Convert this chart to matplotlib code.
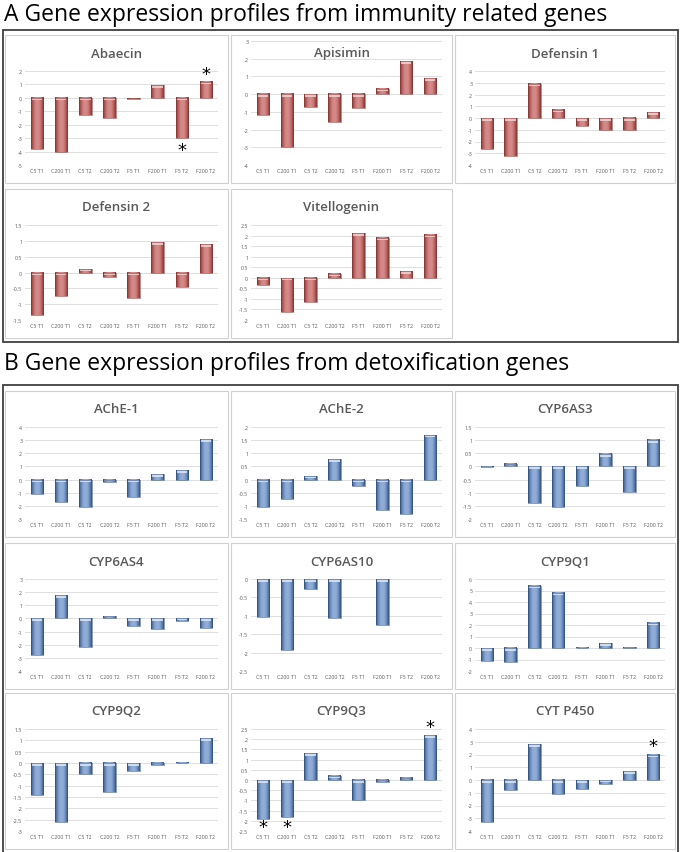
import numpy as np
import matplotlib.pyplot as plt
from matplotlib.colors import LinearSegmentedColormap
from matplotlib.patches import Rectangle

W, H = 680, 853

# ---- data -------------------------------------------------------------------
CATS = ["C5 T1", "C200 T1", "C5 T2", "C200 T2", "F5 T1", "F200 T1", "F5 T2", "F200 T2"]

ABAECIN = [-3.8, -4.05, -1.3, -1.5, -0.05, 0.95, -3.0, 1.2]
APISIMIN = [-1.2, -3.0, -0.7, -1.6, -0.8, 0.3, 1.85, 0.9]
DEFENSIN1 = [-2.6, -3.2, 2.9, 0.7, -0.65, -1.0, -1.05, 0.5]
DEFENSIN2 = [-1.35, -0.75, 0.12, -0.15, -0.8, 0.95, -0.45, 0.9]
VITELLOGENIN = [-0.35, -1.6, -1.15, 0.2, 2.1, 1.9, 0.3, 2.05]

ACHE1 = [-1.1, -1.7, -2.1, -0.2, -1.3, 0.4, 0.7, 3.05]
ACHE2 = [-1.05, -0.75, 0.15, 0.78, -0.25, -1.15, -1.3, 1.7]
CYP6AS3 = [-0.03, 0.08, -1.4, -1.55, -0.75, 0.47, -0.98, 1.0]
CYP6AS4 = [-2.8, 1.75, -2.15, 0.15, -0.6, -0.8, -0.2, -0.75]
CYP6AS10 = [-1.03, -1.92, -0.28, -1.05, 0.0, -1.25, 0.0, 0.0]
CYP9Q1 = [-1.1, -1.25, 5.4, 4.8, -0.03, 0.4, 0.07, 2.2]
CYP9Q2 = [-1.4, -2.6, -0.5, -1.3, -0.35, -0.1, 0.02, 1.1]
CYP9Q3 = [-1.9, -1.8, 1.3, 0.2, -1.0, -0.1, 0.1, 2.2]
CYTP450 = [-3.3, -0.8, 2.8, -1.1, -0.7, -0.3, 0.7, 2.0]

# (title, values, ymin, ymax, step, starred category indices)
PANELS_A = [
    ("Abaecin", ABAECIN, -5, 2, 1, [6, 7]),
    ("Apisimin", APISIMIN, -4, 3, 1, []),
    ("Defensin 1", DEFENSIN1, -4, 4, 1, []),
    ("Defensin 2", DEFENSIN2, -1.5, 1.5, 0.5, []),
    ("Vitellogenin", VITELLOGENIN, -2, 2.5, 0.5, []),
]
PANELS_B = [
    ("AChE-1", ACHE1, -3, 4, 1, []),
    ("AChE-2", ACHE2, -1.5, 2, 0.5, []),
    ("CYP6AS3", CYP6AS3, -2, 1.5, 0.5, []),
    ("CYP6AS4", CYP6AS4, -4, 3, 1, []),
    ("CYP6AS10", CYP6AS10, -2.5, 0, 0.5, []),
    ("CYP9Q1", CYP9Q1, -2, 6, 1, []),
    ("CYP9Q2", CYP9Q2, -3, 1.5, 0.5, []),
    ("CYP9Q3", CYP9Q3, -2.5, 2.5, 0.5, [0, 1, 7]),
    ("CYT P450", CYTP450, -4, 4, 1, [7]),
]

# bar styles: side gradient + light cap
RED = (LinearSegmentedColormap.from_list(
    "red", ["#853634", "#b85e5b", "#cf8482", "#d48c8a", "#cf8482", "#b85e5b", "#853634"]),
    "#f2d2d1")
BLUE = (LinearSegmentedColormap.from_list(
    "blue", ["#34527f", "#6486b8", "#8aa8d3", "#93afd8", "#8aa8d3", "#6486b8", "#34527f"]),
    "#dbe6f5")

plt.rcParams["font.family"] = ["Open Sans", "DejaVu Sans"]


def frect(x, y, w, h):
    return [x / W, 1 - (y + h) / H, w / W, h / H]


def draw_panel(fig, box, spec, style, title_inside=False):
    px, py, pw, ph = box
    title, vals, ymin, ymax, step, stars = spec
    cmap, cap = style
    fig.patches.append(Rectangle((px / W, 1 - (py + ph) / H), pw / W, ph / H,
                                 transform=fig.transFigure, facecolor="none",
                                 edgecolor="#d0d0d0", linewidth=0.8, zorder=-1))
    top = 6 if title_inside else 36
    ah = ph - top - 18
    ax = fig.add_axes(frect(px + 20, py + top, pw - 30, ah))
    ax.set_facecolor("none")
    for s in ax.spines.values():
        s.set_visible(False)

    ticks = np.arange(ymin, ymax + step / 2, step)
    for t in ticks:
        ax.axhline(t, color="#d9d9d9", linewidth=0.6, zorder=1)

    ppu = ah / (ymax - ymin)  # pixels per data unit
    grad = np.linspace(0, 1, 64).reshape(1, -1)
    x = np.arange(len(CATS))
    bw = 0.52
    for xi, v in zip(x, vals):
        if v == 0:
            continue
        y0, y1 = min(0, v), max(0, v)
        ax.imshow(grad, extent=(xi - bw / 2, xi + bw / 2, y0, y1), aspect="auto",
                  cmap=cmap, zorder=2, interpolation="bilinear")
        band = min(2.5 / ppu, (y1 - y0) * 0.5)
        ax.add_patch(Rectangle((xi - bw / 2 + 0.04, y1 - band), bw - 0.08, band,
                               facecolor=cap, edgecolor="none", alpha=0.85, zorder=3))
        ax.add_patch(Rectangle((xi - bw / 2, y0), bw, y1 - y0, facecolor="none",
                               edgecolor=cmap(0.0), linewidth=0.4, zorder=3))
    for i in stars:
        v = vals[i]
        off = 10 / ppu
        if v > 0:
            yy = v + off
        else:
            # keep the star clear of the category labels
            yy = max(v - off, ymin + 6 / ppu)
        ax.text(x[i], yy, "$*$", ha="center", va="center", fontsize=13,
                color="black", zorder=4, clip_on=False)

    ax.set_xlim(-0.5, len(CATS) - 0.5)
    ax.set_ylim(ymin, ymax)
    ax.set_yticks(ticks)
    ax.set_yticklabels([f"{t:g}" for t in ticks])
    ax.set_xticks(x)
    ax.set_xticklabels(CATS)
    ax.tick_params(axis="both", length=0, labelsize=3.8, colors="#595959", pad=2)

    fig.text((px + pw / 2) / W, 1 - (py + 18) / H, title, ha="center", va="center",
             fontsize=9.5, fontweight="semibold", color="#595959", zorder=5)


fig = plt.figure(figsize=(W / 100, H / 100), dpi=100)
fig.patch.set_facecolor("white")

# section frames
fig.patches.append(Rectangle((3 / W, 1 - 343 / H), 675 / W, 312 / H,
                             transform=fig.transFigure, facecolor="none",
                             edgecolor="#404040", linewidth=1.3, zorder=-1))
fig.patches.append(Rectangle((3 / W, 1 - 856 / H), 675 / W, 470 / H,
                             transform=fig.transFigure, facecolor="none",
                             edgecolor="#404040", linewidth=1.3, zorder=-1))

fig.text(4 / W, 1 - 15 / H, "A Gene expression profiles from immunity related genes",
         ha="left", va="center", fontsize=16.5, color="black")
fig.text(4 / W, 1 - 364 / H, "B Gene expression profiles from detoxification genes",
         ha="left", va="center", fontsize=16.5, color="black")

cols = [(5, 223), (231, 221), (455, 220)]
rows_a = [(36, 148), (190, 149)]
rows_b = [(392, 146), (544, 146), (694, 156)]

for k, spec in enumerate(PANELS_A):
    r, c = divmod(k, 3)
    box = (cols[c][0], rows_a[r][0], cols[c][1], rows_a[r][1])
    draw_panel(fig, box, spec, RED, title_inside=(spec[0] == "Apisimin"))

for k, spec in enumerate(PANELS_B):
    r, c = divmod(k, 3)
    box = (cols[c][0], rows_b[r][0], cols[c][1], rows_b[r][1])
    draw_panel(fig, box, spec, BLUE)

fig.savefig("out.png", dpi=100)
